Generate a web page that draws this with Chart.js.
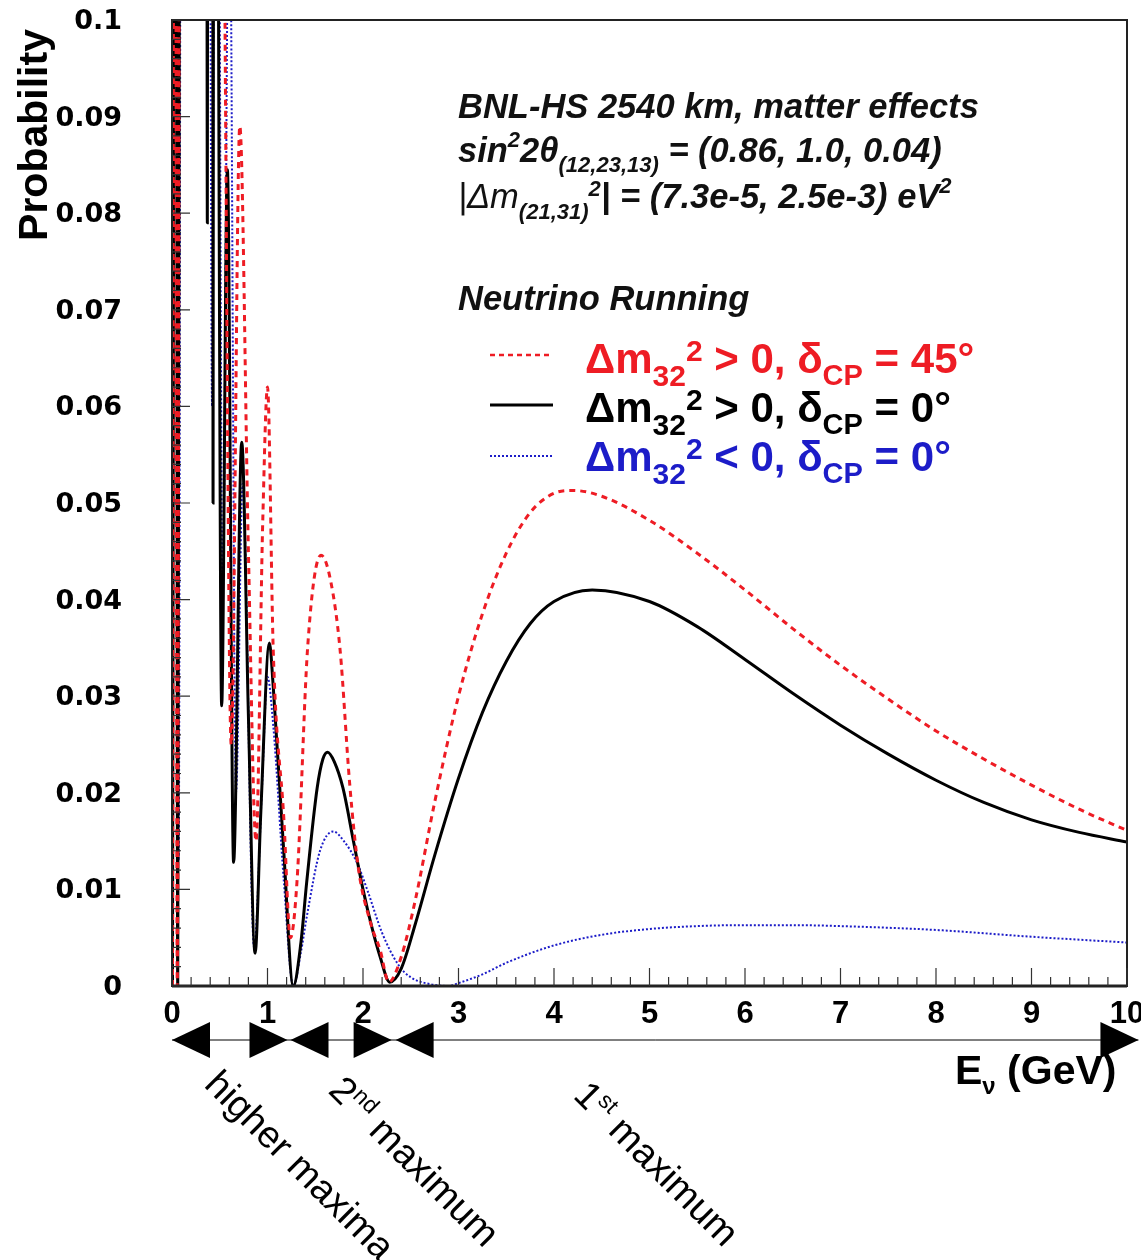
<!DOCTYPE html>
<html>
<head>
<meta charset="utf-8">
<script src="https://cdn.jsdelivr.net/npm/chart.js@4.4.1/dist/chart.umd.min.js"></script>
<style>
  html, body { margin: 0; padding: 0; background: #fff; }
  #wrap { width: 1141px; height: 1260px; position: relative; }
</style>
</head>
<body>
<div id="wrap"><canvas id="c" width="1141" height="1260"></canvas></div>
<script>
// E_nu (GeV) / probability (values > 0.1 are off the frame)
const redE = [0.005, 0.03, 0.055, 0.09, 0.20, 0.50, 0.555, 0.62, 0.71, 0.80, 0.88, 0.95, 1.00, 1.06, 1.17, 1.24, 1.31, 1.42, 1.56, 1.66, 1.76, 1.86, 1.95, 2.08, 2.18, 2.27, 2.40, 2.55, 2.75, 3.00, 3.25, 3.50, 3.75, 4.00, 4.20, 4.50, 5.00, 5.50, 6.00, 6.50, 7.00, 7.50, 8.00, 8.50, 9.00, 9.50, 10.0];
const redP = [0.000, 0.20, 0.000, 0.20, 0.30, 0.20, 0.10, 0.025, 0.089, 0.045, 0.015, 0.048, 0.062, 0.0348, 0.0175, 0.005, 0.011, 0.035, 0.0446, 0.042, 0.0348, 0.021, 0.0123, 0.0065, 0.0037, 0.0004, 0.003, 0.009, 0.019, 0.030, 0.0385, 0.0448, 0.049, 0.051, 0.0513, 0.0507, 0.0482, 0.0448, 0.0410, 0.0370, 0.0332, 0.0297, 0.0264, 0.0235, 0.0208, 0.0183, 0.0161];

const blackE = [0.005, 0.04, 0.06, 0.09, 0.20, 0.36, 0.37, 0.38, 0.40, 0.425, 0.43, 0.44, 0.47, 0.52, 0.58, 0.645, 0.73, 0.80, 0.87, 0.93, 1.02, 1.06, 1.17, 1.27, 1.35, 1.41, 1.52, 1.58, 1.63, 1.70, 1.79, 1.90, 2.00, 2.10, 2.18, 2.28, 2.40, 2.55, 2.75, 3.00, 3.25, 3.50, 3.75, 4.00, 4.40, 5.00, 5.50, 6.00, 6.50, 7.00, 7.50, 8.00, 8.50, 9.00, 9.50, 10.0];
const blackP = [0.000, 0.20, 0.000, 0.20, 0.30, 0.20, 0.079, 0.20, 0.25, 0.20, 0.050, 0.20, 0.15, 0.029, 0.0845, 0.0128, 0.0563, 0.028, 0.0034, 0.018, 0.0355, 0.031, 0.014, 0.000, 0.0045, 0.0107, 0.0205, 0.0235, 0.0242, 0.0232, 0.0205, 0.0150, 0.0100, 0.0058, 0.0030, 0.0004, 0.0018, 0.0065, 0.0135, 0.0215, 0.0283, 0.0336, 0.0375, 0.0398, 0.0410, 0.0398, 0.0372, 0.0338, 0.0303, 0.0270, 0.0240, 0.0213, 0.0190, 0.0172, 0.0159, 0.0149];

const blueE = [0.005, 0.03, 0.07, 0.10, 0.20, 0.38, 0.42, 0.46, 0.53, 0.60, 0.67, 0.74, 0.86, 0.94, 1.00, 1.06, 1.17, 1.27, 1.35, 1.41, 1.55, 1.69, 1.80, 1.94, 2.05, 2.20, 2.37, 2.50, 2.70, 2.90, 3.00, 3.25, 3.50, 4.00, 4.50, 5.00, 5.50, 6.00, 6.50, 7.00, 8.00, 9.00, 10.0];
const blueP = [0.000, 0.20, 0.013, 0.20, 0.30, 0.20, 0.060, 0.20, 0.040, 0.12, 0.020, 0.052, 0.004, 0.020, 0.032, 0.027, 0.011, 0.000, 0.0035, 0.0071, 0.014, 0.0160, 0.0150, 0.0127, 0.0098, 0.0055, 0.0022, 0.0009, 0.0002, 0.0000, 0.0003, 0.0012, 0.0024, 0.0042, 0.0053, 0.0059, 0.0062, 0.0063, 0.0063, 0.0062, 0.0058, 0.0051, 0.0045];

const xTicks = [0, 1, 2, 3, 4, 5, 6, 7, 8, 9, 10];
const yTicks = [0, 0.01, 0.02, 0.03, 0.04, 0.05, 0.06, 0.07, 0.08, 0.09, 0.1];

const RED = "#ee1c24";
const BLUE = "#1c1cc8";
const FONT = "'Liberation Sans', Arial, sans-serif";

function pts(xs, ys) {
  return xs.map((x, i) => ({ x, y: ys[i] }));
}

// draw a run of text pieces (sub/superscripts) left to right
function runs(ctx, x, y, parts, color) {
  ctx.fillStyle = color;
  ctx.textAlign = "left";
  ctx.textBaseline = "alphabetic";
  for (const p of parts) {
    ctx.font = p.f;
    ctx.fillText(p.t, x, y + (p.dy || 0));
    x += ctx.measureText(p.t).width + (p.gap || 0);
  }
  return x;
}

const decor = {
  id: "decor",
  afterDraw(chart) {
    const { ctx, chartArea: a, scales } = chart;
    const xs = scales.x, ys = scales.y;
    ctx.save();

    // frame
    ctx.strokeStyle = "#222";
    ctx.lineWidth = 2;
    ctx.strokeRect(a.left, a.top, a.right - a.left, a.bottom - a.top);
    ctx.lineWidth = 3;
    ctx.beginPath();
    ctx.moveTo(a.left, a.bottom);
    ctx.lineTo(a.right, a.bottom);
    ctx.stroke();

    // inside ticks
    ctx.lineWidth = 1.2;
    ctx.strokeStyle = "#333";
    ctx.beginPath();
    for (let i = 0; i <= 50; i++) {
      const px = xs.getPixelForValue(i * 0.2);
      const len = i % 5 === 0 ? 18 : 9;
      ctx.moveTo(px, a.bottom);
      ctx.lineTo(px, a.bottom - len);
    }
    for (let i = 0; i <= 50; i++) {
      const py = ys.getPixelForValue(i * 0.002);
      const len = i % 5 === 0 ? 18 : 9;
      ctx.moveTo(a.left, py);
      ctx.lineTo(a.left + len, py);
    }
    ctx.stroke();

    // tick labels
    ctx.fillStyle = "#000";
    ctx.font = "bold 27px 'DejaVu Sans', sans-serif";
    ctx.textAlign = "right";
    ctx.textBaseline = "middle";
    yTicks.forEach(v => ctx.fillText(String(+v.toFixed(2)), a.left - 50, ys.getPixelForValue(v) + 2));
    ctx.font = "bold 31px " + FONT;
    ctx.textAlign = "center";
    ctx.textBaseline = "top";
    xTicks.forEach(v => ctx.fillText(String(v), xs.getPixelForValue(v), a.bottom + 13));

    // y title
    ctx.save();
    ctx.translate(47, 135);
    ctx.rotate(-Math.PI / 2);
    ctx.font = "bold 41px " + FONT;
    ctx.textAlign = "center";
    ctx.textBaseline = "alphabetic";
    ctx.fillText("Probability", 0, 0);
    ctx.restore();

    // x title
    const bf = s => `bold ${s}px ${FONT}`;
    runs(ctx, 955, 1084, [
      { t: "E", f: bf(41) },
      { t: "\u03bd", f: `bold 24px ${FONT}`, dy: 10 },
      { t: " (GeV)", f: bf(41) },
    ], "#000");

    // info block
    const bi = s => `italic bold ${s}px ${FONT}`;
    runs(ctx, 458, 118, [{ t: "BNL-HS 2540 km, matter effects", f: bi(34.5) }], "#111");
    runs(ctx, 458, 162, [
      { t: "sin", f: bi(34.5) },
      { t: "2", f: bi(22), dy: -15 },
      { t: "2\u03b8", f: bi(34.5) },
      { t: "(12,23,13)", f: bi(22), dy: 10 },
      { t: " = (0.86, 1.0, 0.04)", f: bi(34.5) },
    ], "#111");
    runs(ctx, 458, 208, [
      { t: "|\u0394m", f: `italic 34.5px ${FONT}` },
      { t: "(21,31)", f: bi(22), dy: 11 },
      { t: "2", f: bi(22), dy: -12 },
      { t: "| = (7.3e-5, 2.5e-3) eV", f: bi(34.5) },
      { t: "2", f: bi(22), dy: -15 },
    ], "#111");
    runs(ctx, 458, 310, [{ t: "Neutrino Running", f: bi(34.5) }], "#111");

    // legend
    const leg = [
      { c: RED, w: 2.5, dash: [5, 4], y: 355, rel: " > 0, \u03b4", ang: " = 45\u00b0" },
      { c: "#000", w: 3, dash: [], y: 405, rel: " > 0, \u03b4", ang: " = 0\u00b0" },
      { c: BLUE, w: 2, dash: [2, 2], y: 456, rel: " < 0, \u03b4", ang: " = 0\u00b0" },
    ];
    leg.forEach((l, i) => {
      ctx.strokeStyle = l.c;
      ctx.lineWidth = l.w;
      ctx.setLineDash(l.dash);
      ctx.beginPath();
      ctx.moveTo(490, l.y);
      ctx.lineTo(553, l.y);
      ctx.stroke();
      ctx.setLineDash([]);
      runs(ctx, 585, 373 + i * 49, [
        { t: "\u0394m", f: bf(42) },
        { t: "32", f: bf(30), dy: 13 },
        { t: "2", f: bf(30), dy: -12 },
        { t: l.rel, f: bf(42) },
        { t: "CP", f: bf(29), dy: 12 },
        { t: l.ang, f: bf(42) },
      ], l.c);
    });

    // region arrows
    const ay = 1040;
    const x0 = xs.getPixelForValue(0), x1 = xs.getPixelForValue(1.22),
          x2 = xs.getPixelForValue(2.3), x3 = xs.getPixelForValue(10.12);
    ctx.strokeStyle = "#000";
    ctx.lineWidth = 1;
    ctx.beginPath();
    ctx.moveTo(x0, ay);
    ctx.lineTo(x3, ay);
    ctx.stroke();
    const tri = (tip, dir) => {
      ctx.beginPath();
      ctx.moveTo(tip, ay);
      ctx.lineTo(tip - dir * 38, ay - 18);
      ctx.lineTo(tip - dir * 38, ay + 18);
      ctx.closePath();
      ctx.fill();
    };
    ctx.fillStyle = "#000";
    tri(x0, -1); tri(x1 - 1, 1); tri(x1 + 2, -1); tri(x2, 1); tri(x2 + 4, -1); tri(x3, 1);

    // rotated region labels
    const rot = (x, y, parts) => {
      ctx.save();
      ctx.translate(x, y);
      ctx.rotate(45 * Math.PI / 180);
      runs(ctx, 0, 0, parts, "#000");
      ctx.restore();
    };
    const rf = s => `${s}px ${FONT}`;
    rot(203, 1086, [{ t: "higher maxima", f: rf(38) }]);
    rot(327, 1092, [{ t: "2", f: rf(38) }, { t: "nd", f: rf(23), dy: -14 }, { t: " maximum", f: rf(38) }]);
    rot(572, 1097, [{ t: "1", f: rf(38) }, { t: "st", f: rf(23), dy: -14 }, { t: " maximum", f: rf(38) }]);

    ctx.restore();
  },
};

new Chart(document.getElementById("c").getContext("2d"), {
  type: "line",
  data: {
    datasets: [
      {
        label: "\u0394m32\u00b2 > 0, \u03b4CP = 45\u00b0",
        data: pts(redE, redP),
        borderColor: RED,
        borderWidth: 3,
        borderDash: [6, 5],
        cubicInterpolationMode: "monotone",
        pointRadius: 0,
      },
      {
        label: "\u0394m32\u00b2 > 0, \u03b4CP = 0\u00b0",
        data: pts(blackE, blackP),
        borderColor: "#000",
        borderWidth: 3,
        cubicInterpolationMode: "monotone",
        pointRadius: 0,
      },
      {
        label: "\u0394m32\u00b2 < 0, \u03b4CP = 0\u00b0",
        data: pts(blueE, blueP),
        borderColor: BLUE,
        borderWidth: 2,
        borderDash: [2, 2],
        cubicInterpolationMode: "monotone",
        pointRadius: 0,
      },
    ],
  },
  options: {
    responsive: false,
    animation: false,
    events: [],
    layout: { padding: { top: 20, right: 14, left: 0, bottom: 0 } },
    plugins: { legend: { display: false }, tooltip: { enabled: false } },
    scales: {
      x: {
        type: "linear", min: 0, max: 10,
        ticks: { display: false },
        grid: { display: false },
        border: { display: false },
        afterFit: s => { s.height = 274; },
      },
      y: {
        min: 0, max: 0.1,
        ticks: { display: false },
        grid: { display: false },
        border: { display: false },
        afterFit: s => { s.width = 172; },
      },
    },
  },
  plugins: [decor],
});
</script>
</body>
</html>
